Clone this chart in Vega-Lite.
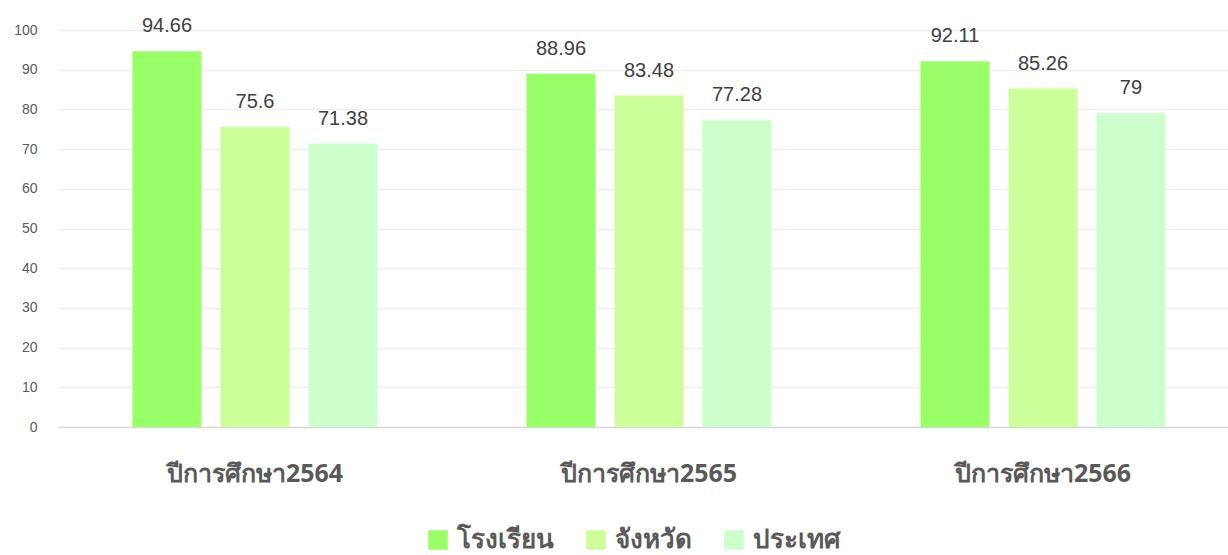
{
  "$schema": "https://vega.github.io/schema/vega-lite/v6.json",
  "width": 1182,
  "height": 397,
  "autosize": {"type": "none"},
  "padding": {"left": 58, "top": 30, "right": 0, "bottom": 128},
  "background": "white",
  "config": {"view": {"stroke": null}, "font": "Liberation Sans"},
  "data": {"values": [
    {"year": "ปีการศึกษา2564", "s": "โรงเรียน", "o": 1, "v": 94.66},
    {"year": "ปีการศึกษา2564", "s": "จังหวัด", "o": 2, "v": 75.6},
    {"year": "ปีการศึกษา2564", "s": "ประเทศ", "o": 3, "v": 71.38},
    {"year": "ปีการศึกษา2565", "s": "โรงเรียน", "o": 1, "v": 88.96},
    {"year": "ปีการศึกษา2565", "s": "จังหวัด", "o": 2, "v": 83.48},
    {"year": "ปีการศึกษา2565", "s": "ประเทศ", "o": 3, "v": 77.28},
    {"year": "ปีการศึกษา2566", "s": "โรงเรียน", "o": 1, "v": 92.11},
    {"year": "ปีการศึกษา2566", "s": "จังหวัด", "o": 2, "v": 85.26},
    {"year": "ปีการศึกษา2566", "s": "ประเทศ", "o": 3, "v": 79}
  ]},
  "encoding": {
    "x": {"field": "year", "type": "nominal", "scale": {"padding": 0},
      "axis": {"title": null, "labelAngle": 0, "ticks": false, "domainColor": "#d9d9d9", "domainWidth": 1.5,
        "labelFont": "Noto Sans", "labelFontSize": 25, "labelFontWeight": "bold", "labelColor": "#595959", "labelPadding": 34}},
    "xOffset": {"field": "s", "type": "nominal", "sort": ["โรงเรียน", "จังหวัด", "ประเทศ"],
      "scale": {"paddingInner": 0.216, "paddingOuter": 0.847}},
    "y": {"field": "v", "type": "quantitative", "scale": {"domain": [0, 100]},
      "axis": {"title": null, "values": [0,10,20,30,40,50,60,70,80,90,100], "labelOverlap": false, "domain": false, "ticks": false,
        "gridColor": "#eeeeee", "gridWidth": 1.5, "labelFontSize": 14, "labelColor": "#595959", "labelPadding": 21}}
  },
  "layer": [
    {"mark": {"type": "bar"},
      "encoding": {"color": {"field": "s", "type": "nominal", "sort": ["โรงเรียน", "จังหวัด", "ประเทศ"],
        "scale": {"range": ["#99ff66", "#ccff99", "#ccffcc"]},
        "legend": {"title": null, "orient": "none", "legendX": 367, "legendY": 497, "direction": "horizontal", "symbolType": "square", "symbolSize": 380,
          "symbolStrokeWidth": 0, "labelFont": "Noto Sans", "labelFontSize": 26, "labelFontWeight": "bold", "labelColor": "#595959",
          "columnPadding": 29, "labelOffset": 6}}}},
    {"mark": {"type": "text", "baseline": "bottom", "dy": -15, "fontSize": 20, "color": "#404040"},
      "encoding": {"text": {"field": "v", "type": "quantitative"}}}
  ]
}
